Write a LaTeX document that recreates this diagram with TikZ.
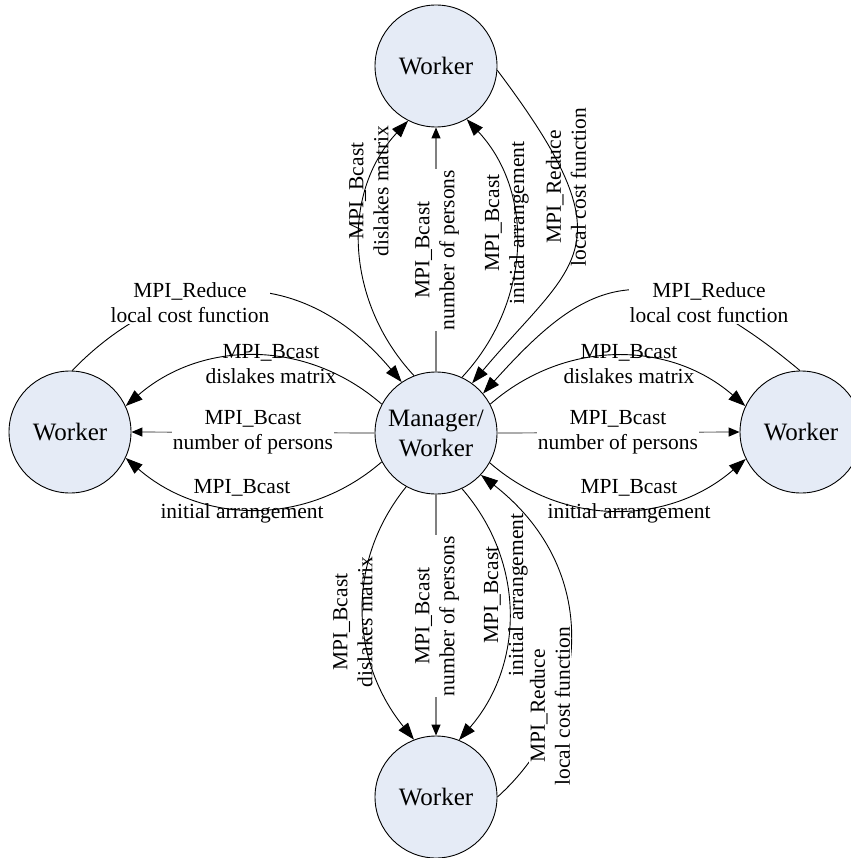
\documentclass[tikz,border=0pt]{standalone}
\usepackage{fontspec}
\setmainfont{Liberation Serif}
\usetikzlibrary{arrows.meta}
\definecolor{nodefill}{RGB}{229,235,246}
\definecolor{lineg}{RGB}{128,128,128}
\begin{document}
\begin{tikzpicture}[x=1pt,y=1pt,
  proc/.style={circle,draw=black,line width=0.9pt,fill=nodefill,minimum size=122pt,inner sep=0pt,font=\fontsize{25}{30}\selectfont,align=center},
  lbl/.style={align=center,inner sep=1pt,font=\fontsize{21.5}{25}\selectfont},
  lblw/.style={lbl,fill=white},
  curv/.style={line width=0.9pt,-{Triangle[length=17pt,width=12pt]}},
  strt/.style={draw=lineg,line width=1.2pt,-{Triangle[length=11pt,width=9pt,color=black]}}
]
\useasboundingbox (0,0) rectangle (850,-858);
% nodes
\node[proc] (c) at (436,-433) {Manager/\\Worker};
\node[proc] (t) at (436,-66) {Worker};
\node[proc] (l) at (70,-432) {Worker};
\node[proc] (r) at (801,-432) {Worker};
\node[proc] (b) at (436,-797) {Worker};
% left
\draw[curv] (c.152) to[out=139,in=41] (l.25);
\draw[strt] (c.180) -- (l.0);
\draw[curv] (c.208) to[out=221,in=-41] (l.-25);
\draw[curv] (l.88) to[out=46,in=130,out distance=130pt,in distance=170pt] (c.124);
% right
\draw[curv] (c.28) to[out=41,in=139] (r.155);
\draw[strt] (c.0) -- (r.180);
\draw[curv] (c.-29) to[out=-41,in=221] (r.206);
\draw[curv] (r.91) to[out=140,in=48,out distance=200pt,in distance=150pt] (c.40);
% top
\draw[curv] (c.111) to[out=133,in=227] (t.243);
\draw[strt] (c.90) -- (t.270);
\draw[curv] (c.65) to[out=47,in=313] (t.300);
\draw[curv] (t.-4) to[out=-53,in=50,out distance=225pt,in distance=160pt] (c.54);
% bottom
\draw[curv] (c.241) to[out=231,in=129] (b.111);
\draw[strt] (c.270) -- (b.90);
\draw[curv] (c.-65) to[out=311,in=49] (b.68);
\draw[curv] (b.0) to[out=42,in=-38,out distance=120pt,in distance=160pt] (c.-43);
% labels left
\node[lbl] (ld) at (271,-364) {MPI\_Bcast\\dislakes matrix};
\node[lblw] (ln) at (253,-432) {MPI\_Bcast\\number of persons};
\node[lbl] (li) at (242,-501) {MPI\_Bcast\\initial arrangement};
\node[lblw] (lr) at (190,-303) {MPI\_Reduce\\local cost function};
% labels right
\node[lbl] (rd) at (629,-364) {MPI\_Bcast\\dislakes matrix};
\node[lblw] (rn) at (618,-432) {MPI\_Bcast\\number of persons};
\node[lbl] (ri) at (629,-501) {MPI\_Bcast\\initial arrangement};
\node[lblw] (rr) at (709,-303) {MPI\_Reduce\\local cost function};
% labels top
\node[lbl,rotate=90] (td) at (369,-191) {MPI\_Bcast\\dislakes matrix};
\node[lblw,rotate=90] (tn) at (437,-250) {MPI\_Bcast\\number of persons};
\node[lbl,rotate=90] (ti) at (507,-223) {MPI\_Bcast\\initial arrangement};
\node[lbl,rotate=90] (tr) at (566,-187) {MPI\_Reduce\\local cost function};
% labels bottom
\node[lbl,rotate=90] (bd) at (353,-622) {MPI\_Bcast\\dislakes matrix};
\node[lblw,rotate=90] (bn) at (437,-616) {MPI\_Bcast\\number of persons};
\node[lbl,rotate=90] (bi) at (506,-595) {MPI\_Bcast\\initial arrangement};
\node[lblw,rotate=90] (br) at (550,-706) {MPI\_Reduce\\local cost function};
\end{tikzpicture}
\end{document}
